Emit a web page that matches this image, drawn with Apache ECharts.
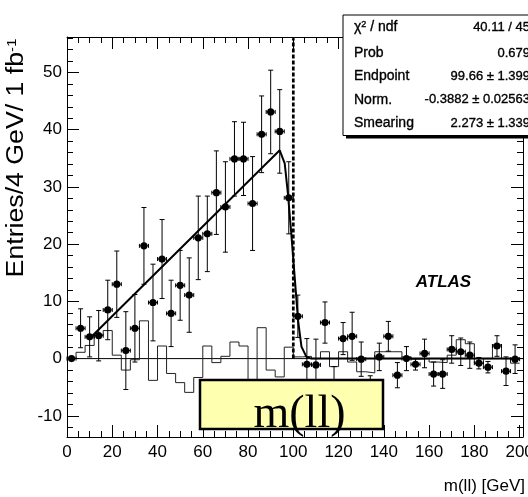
<!DOCTYPE html>
<html><head><meta charset="utf-8">
<script src="https://cdn.jsdelivr.net/npm/echarts@6/dist/echarts.min.js"></script>
<style>html,body{margin:0;padding:0;background:#fff}#c{width:528px;height:497px}</style>
</head><body><div id="c"></div>
<script>
// ---- data ----
const binCenters = [2,6,10,14,18,22,26,30,34,38,42,46,50,54,58,62,66,70,74,78,82,86,90,94,98,102,106,110,114,118,122,126,130,134,138,142,146,150,154,158,162,166,170,174,178,182,186,190,194,198];
const dataValues = [0,5.3,3.8,4.0,8.5,13.0,1.4,5.3,19.7,9.8,17.4,7.9,12.8,11.1,21.1,21.8,29.0,26.5,34.9,34.9,27.1,39.2,43.1,39.7,28.1,7.4,-1.0,-1.1,6.3,-4.5,3.5,3.9,-0.1,-6.0,0.3,3.9,-2.9,0.0,-1.0,0.9,-2.7,-2.7,1.6,1.2,0.6,-0.8,-1.5,2.2,-2.2,-0.1];
const dataErrors = [0,3.4,3.5,4.4,5.2,5.8,6.8,5.9,6.7,6.7,6.9,5.8,6.1,6.5,7.3,6.6,7.3,7.9,6.5,6.4,8.2,6.7,7.3,7.3,6.3,3.7,4.5,4.5,3.6,3.1,2.8,4.2,3.0,3.0,2.4,2.6,2.2,2.1,1.0,2.5,2.1,2.5,2.4,2.4,2.3,1.0,1.0,1.8,2.5,2.5];
const histValues = [0,1.1,2.3,4.1,4.9,0.6,-2.0,-0.2,6.6,-3.8,2.2,-2.6,-4.2,-5.9,-3.3,2.2,-0.7,0.4,2.9,2.2,-5.0,5.4,-2.0,-3.2,2.0,0.3,0.4,0.0,1.2,-1.4,1.2,-0.6,-2.3,-2.5,1.2,1.2,1.2,0.3,-0.1,0.0,-0.6,-0.7,0.6,3.3,2.6,-0.8,0.0,2.4,0.0,-0.8];
const binHalfWidth = 2;
const fitX = [10,94,96.2,97.6,99.1,100.6,102.1,103.6,105.8,108,200];
const fitY = [3.5,36.4,34.1,28.9,21.9,14.3,6.7,2.1,0.3,0,0];
const endpointX = [100,100];
const endpointY = [0,56];
const zeroLineX = [0,201.5];
const xMajor = [0,20,40,60,80,100,120,140,160,180,200];
const yMajor = [-10,0,10,20,30,40,50];
const X_MIN = 0, X_MAX = 201.5, Y_MIN = -13.7, Y_MAX = 56.2;
const statLabels = ['Prob','Endpoint','Norm.','Smearing'];
const statValues = ['40.11 / 45','0.679','99.66 \u00b1 1.399','-0.3882 \u00b1 0.02563','2.273 \u00b1 1.339'];

const xMinor = []; for (let v = 5; v < 201; v += 5) if (v % 20) xMinor.push(v);
const yMinor = []; for (let v = -12; v <= 56; v += 2) if (v % 10) yMinor.push(v);

const FONT = '"Liberation Sans", Arial, Helvetica, sans-serif';
const chart = echarts.init(document.getElementById('c'), null, {renderer:'canvas'});
const G = {left:67, top:37, right:5, bottom:60, containLabel:false, outerBoundsMode:'none'};

function xAx(grid, pos, ticks, len, showLine, labels){
  return {type:'value', gridIndex:grid, position:pos, min:X_MIN, max:X_MAX,
    axisLine:{show:showLine, onZero:false, lineStyle:{color:'#000', width:1}},
    axisTick:{show:true, inside:true, length:len, customValues:ticks, lineStyle:{color:'#000', width:1}},
    axisLabel:{show:!!labels, customValues:ticks, fontSize:17, color:'#000', fontFamily:FONT, margin:7, hideOverlap:false},
    splitLine:{show:false}};
}
function yAx(grid, pos, ticks, len, showLine, labels){
  return {type:'value', gridIndex:grid, position:pos, min:Y_MIN, max:Y_MAX,
    axisLine:{show:showLine, onZero:false, lineStyle:{color:'#000', width:1}},
    axisTick:{show:true, inside:true, length:len, customValues:ticks, lineStyle:{color:'#000', width:1}},
    axisLabel:{show:!!labels, customValues:ticks, fontSize:17, color:'#000', fontFamily:FONT, margin:5, hideOverlap:false},
    splitLine:{show:false}};
}

const histData = [];
binCenters.forEach((c,i)=>{ histData.push([c-binHalfWidth, histValues[i]]); histData.push([c+binHalfWidth, histValues[i]]); });

const TXT = {stroke:'#000', lineWidth:0.35};
const option = {
  animation:false,
  backgroundColor:'#fff',
  grid:[Object.assign({},G),Object.assign({},G),Object.assign({},G),Object.assign({},G)],
  xAxis:[xAx(0,'bottom',xMajor,12,true,true), xAx(1,'bottom',xMinor,6,false,false),
         xAx(2,'top',xMajor,12,true,false), xAx(3,'top',xMinor,6,false,false)],
  yAxis:[yAx(0,'left',yMajor,12,true,true), yAx(1,'left',yMinor,6,false,false),
         yAx(2,'right',yMajor,12,true,false), yAx(3,'right',yMinor,6,false,false)],
  series:[
    {type:'line', xAxisIndex:0, yAxisIndex:0, data:zeroLineX.map(x=>[x,0]), showSymbol:false, symbol:'none',
     lineStyle:{color:'#000', width:1}, z:2, silent:true},
    {type:'line', xAxisIndex:0, yAxisIndex:0, data:histData, showSymbol:false, symbol:'none',
     lineStyle:{color:'#222', width:1}, z:3, silent:true},
    {type:'line', xAxisIndex:0, yAxisIndex:0, data:fitX.map((x,i)=>[x,fitY[i]]), showSymbol:false, symbol:'none',
     lineStyle:{color:'#000', width:2}, z:4, silent:true},
    {type:'line', xAxisIndex:0, yAxisIndex:0, data:endpointX.map((x,i)=>[x,endpointY[i]]), showSymbol:false, symbol:'none',
     lineStyle:{color:'#000', width:2.7, type:[4,2]}, z:4, silent:true},
    {type:'custom', xAxisIndex:0, yAxisIndex:0, z:6, silent:true,
     encode:{x:0, y:1},
     data:binCenters.map((c,i)=>[c, dataValues[i], dataErrors[i]]),
     renderItem:function(params, api){
       const x = api.value(0), y = api.value(1), e = api.value(2);
       const p = api.coord([x,y]);
       const ls = {stroke:'#000', lineWidth:1};
       const ch = [];
       if (e > 0){
         const t = api.coord([x, y+e]), b = api.coord([x, y-e]);
         ch.push({type:'line', shape:{x1:p[0], y1:t[1], x2:p[0], y2:b[1]}, style:ls});
         ch.push({type:'line', shape:{x1:p[0]-2.5, y1:t[1], x2:p[0]+2.5, y2:t[1]}, style:ls});
         ch.push({type:'line', shape:{x1:p[0]-2.5, y1:b[1], x2:p[0]+2.5, y2:b[1]}, style:ls});
       }
       const l = api.coord([x-binHalfWidth, y]), r = api.coord([x+binHalfWidth, y]);
       ch.push({type:'line', shape:{x1:l[0], y1:p[1], x2:r[0], y2:p[1]}, style:ls});
       ch.push({type:'line', shape:{x1:l[0], y1:p[1]-2, x2:l[0], y2:p[1]+2}, style:ls});
       ch.push({type:'line', shape:{x1:r[0], y1:p[1]-2, x2:r[0], y2:p[1]+2}, style:ls});
       ch.push({type:'circle', shape:{cx:p[0], cy:p[1], r:3.6}, style:{fill:'#000'}});
       return {type:'group', children:ch};
     }}
  ],
  graphic:[
    {type:'rect', z:100, shape:{x:200, y:380, width:183, height:49}, style:{fill:'#ffffb0', stroke:'#000', lineWidth:2.5}},
    {type:'text', z:101, x:299.5, y:415, style:{text:'m(ll)', fontFamily:'"Liberation Serif", "Times New Roman", serif', fontSize:46, fill:'#000', align:'center', verticalAlign:'middle'}},
    {type:'text', z:100, x:443.5, y:282, style:{text:'ATLAS', fontFamily:FONT, fontSize:17, fontWeight:'bold', fontStyle:'italic', fill:'#000', align:'center', verticalAlign:'middle'}},
    {type:'text', z:100, x:525, y:486, style:{text:'m(ll) [GeV]', fontFamily:FONT, fontSize:17, fill:'#000', align:'right', verticalAlign:'middle'}},
    {type:'text', z:100, x:17, y:158, rotation:Math.PI/2, scaleX:1.16,
     style:{text:'{m|Entries/4 GeV/ 1 fb}{s|-1}', align:'center', verticalAlign:'middle',
       rich:{m:{fontFamily:FONT, fontSize:23, fill:'#000', verticalAlign:'bottom'}, s:{fontFamily:FONT, fontSize:13, fill:'#000', verticalAlign:'top'}}}},
    {type:'rect', z:110, shape:{x:346, y:18, width:200, height:120.5}, style:{fill:'#000'}},
    {type:'rect', z:111, shape:{x:343, y:15, width:200, height:120.5}, style:{fill:'#fff', stroke:'#000', lineWidth:1}},
    {type:'text', z:112, x:354, y:27, style:{text:'{a|\u03c7}{b|2}{a| / ndf}', align:'left', verticalAlign:'middle',
       rich:{a:Object.assign({fontFamily:FONT, fontSize:14, fill:'#000', verticalAlign:'bottom'},TXT), b:Object.assign({fontFamily:FONT, fontSize:9, fill:'#000', verticalAlign:'top'},TXT)}}},
    ...statLabels.map((t,i)=>({type:'text', z:112, x:354, y:53+23.4*i, style:Object.assign({text:t, fontFamily:FONT, fontSize:14, fill:'#000', align:'left', verticalAlign:'middle'},TXT)})),
    ...statValues.map((t,i)=>({type:'text', z:112, x:530, y:(i===0?27:53+23.4*(i-1)), style:Object.assign({text:t, fontFamily:FONT, fontSize:13, fill:'#000', align:'right', verticalAlign:'middle'},TXT)}))
  ]
};
chart.setOption(option);
</script>
</body></html>
